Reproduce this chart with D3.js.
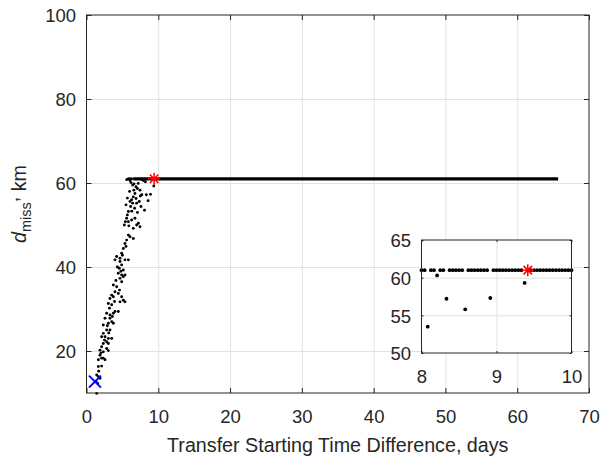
<!DOCTYPE html>
<html>
<head>
<meta charset="utf-8">
<script src="https://cdn.jsdelivr.net/npm/d3@7"></script>
<style>
body { margin: 0; background: #fff; }
text { font-family: "Liberation Sans", Arial, sans-serif; fill: #262626; }
.grid line { stroke: #e2e2e2; }
.grid path { display: none; }
.ax path { display: none; }
.ax line { stroke: #262626; }
</style>
</head>
<body>
<script>
// miss distance vs transfer start shift (days, km)
var cloudT = [4.67,4.90,4.57,5.13,4.43,4.90,4.67,5.13,5.36,4.90,3.74,4.20,3.97,3.51,3.27,3.74,4.43,4.90,5.13,5.36,
              4.67,3.04,3.51,3.97,4.43,3.74,3.27,2.81,2.58,3.27,3.51,3.04,2.34,3.74,2.81,3.27,2.34,2.11,2.58,3.04,
              3.51,2.81,2.34,3.04,2.11,2.81,1.88,2.34,3.04,1.88,2.11,1.65,2.34,2.58,1.65,2.11,1.42,1.65,1.88,1.32,1.42,
              6.06,6.20,6.43,6.62,6.89,7.08,7.45,7.68,7.92,6.75,6.52,6.29,6.06,6.43,6.15,6.99,7.35,7.59,5.83,5.69,
              5.59,5.41,5.27,5.83,6.29,6.75,7.22,7.45,6.99,6.52,5.83,6.06,5.59,6.52,5.36,5.13,4.90,4.20,3.97,4.67,
              5.36,5.83,
              3.20,3.90,4.10,4.60,4.30,5.00,5.50,4.80,3.60,2.90,2.50,2.00,1.70,1.55,3.10,
              5.90,6.30,6.70,7.10,7.70,7.20,6.60,6.00,5.70,5.50,6.90,7.50,5.60,
              8.083,8.208,8.333,8.583,8.917,9.375];
var cloudD = [41.3,40.5,39.7,39.3,38.5,38.1,37.3,37.7,38.1,36.5,35.7,35.3,34.1,33.3,32.5,32.9,33.7,32.9,32.1,31.7,
              31.7,31.3,31.0,29.4,29.4,29.0,28.6,29.0,27.8,27.8,27.0,26.6,26.2,26.6,25.0,25.0,24.2,23.4,23.4,23.0,
              23.0,22.2,21.8,21.8,21.0,20.6,20.2,19.8,20.1,19.0,18.3,17.9,18.3,17.9,16.3,16.4,14.3,13.9,13.5,12.7,9.9,
              60.6,60.1,59.5,59.8,59.1,58.7,58.3,60.9,60.6,57.5,56.7,56.0,55.6,55.2,54.4,55.2,55.6,54.4,53.2,52.4,
              51.6,50.8,50.0,50.8,51.2,51.6,50.4,49.6,50.0,49.2,47.6,47.2,46.4,46.8,45.6,44.4,43.3,42.5,41.7,42.1,
              41.7,41.7,
              30.2,31.8,36.8,34.5,40.0,42.8,44.9,39.0,28.2,26.0,22.6,19.5,15.2,12.3,24.3,
              49.8,53.3,54.0,53.0,57.2,59.9,58.3,58.0,56.4,54.8,56.3,56.9,60.8,
              53.5,60.3,57.2,55.8,57.3,59.3];
var plateauValue = 61;
var plateauDotsT = [5.83, 6.06, 6.29];
var plateauSpan = [6.5, 65.7];
// hours after day 8 that sit on the plateau (inset)
var insetPlateauHours = [0,1,3,4,6,7,9,10,11,12,13,15,16,17,18,19,20,21,23,24,25,26,27,28,29,30,31,32,
                         34,35,36,37,38,39,40,41,42,43,44,45,46,47,48];
var bestPoint = [9.417, 61];
var startPoint = [1.18, 12.7];

var xTicks = [0,10,20,30,40,50,60,70];
var yTicks = [20,40,60,80,100];
var insetXTicks = [8,9,10];
var insetYTicks = [50,55,60,65];

var W = 603, H = 461;
var svg = d3.select("body").append("svg").attr("width", W).attr("height", H);

var x = d3.scaleLinear().domain([0,70]).range([86.5,589]);
var y = d3.scaleLinear().domain([10,100]).range([393,15]);
var fmt = d3.format("d");

function axesFrame(g, xs, ys, xt, yt) {
    var x0 = xs.range()[0], x1 = xs.range()[1], y0 = ys.range()[0], y1 = ys.range()[1];
    g.append("rect").attr("x", x0).attr("y", y1).attr("width", x1-x0).attr("height", y0-y1).attr("fill", "#fff");
    g.append("g").attr("class","grid").attr("transform","translate(0,"+y0+")")
        .call(d3.axisBottom(xs).tickValues(xt.filter(function(v){return v>xs.domain()[0] && v<xs.domain()[1];})).tickSize(-(y0-y1)).tickFormat(""));
    g.append("g").attr("class","grid").attr("transform","translate("+x0+",0)")
        .call(d3.axisLeft(ys).tickValues(yt.filter(function(v){return v>ys.domain()[0] && v<ys.domain()[1];})).tickSize(-(x1-x0)).tickFormat(""));
}
function axesTicks(g, xs, ys, xt, yt, tick, fs) {
    var x0 = xs.range()[0], x1 = xs.range()[1], y0 = ys.range()[0], y1 = ys.range()[1];
    var b = g.append("g").attr("class","ax").attr("transform","translate(0,"+y0+")")
        .call(d3.axisBottom(xs).tickValues(xt).tickFormat(fmt).tickSizeInner(-tick).tickSizeOuter(0).tickPadding(17));
    b.selectAll("text").style("font-size", fs+"px");
    var l = g.append("g").attr("class","ax").attr("transform","translate("+x0+",0)")
        .call(d3.axisLeft(ys).tickValues(yt).tickFormat(fmt).tickSizeInner(-tick).tickSizeOuter(0).tickPadding(10.5));
    l.selectAll("text").style("font-size", fs+"px").attr("dy","0.36em");
    g.append("g").attr("class","ax").attr("transform","translate(0,"+y1+")")
        .call(d3.axisTop(xs).tickValues(xt).tickSizeInner(-tick).tickSizeOuter(0).tickFormat(""));
    g.append("g").attr("class","ax").attr("transform","translate("+x1+",0)")
        .call(d3.axisRight(ys).tickValues(yt).tickSizeInner(-tick).tickSizeOuter(0).tickFormat(""));
    g.append("rect").attr("x", x0).attr("y", y1).attr("width", x1-x0).attr("height", y0-y1)
        .attr("fill","none").attr("stroke","#262626").attr("stroke-width",1);
}
function star(g, cx, cy, r) {
    var p = d3.path();
    for (var a = 0; a < 4; a++) {
        var ang = a*Math.PI/4;
        p.moveTo(cx - r*Math.cos(ang), cy - r*Math.sin(ang));
        p.lineTo(cx + r*Math.cos(ang), cy + r*Math.sin(ang));
    }
    g.append("path").attr("d", p.toString()).attr("stroke","#ff0000").attr("stroke-width",1.5).attr("fill","none");
}

// main axes
var main = svg.append("g");
axesFrame(main, x, y, xTicks, yTicks);

main.append("line")
    .attr("x1", x(plateauSpan[0])).attr("x2", x(plateauSpan[1]))
    .attr("y1", y(plateauValue)).attr("y2", y(plateauValue))
    .attr("stroke","#000").attr("stroke-width",3.2);
main.selectAll("circle.pl").data(plateauDotsT).enter().append("circle")
    .attr("cx", function(d){return x(d);}).attr("cy", y(plateauValue)).attr("r",1.5).attr("fill","#000");
main.selectAll("circle.cl").data(d3.range(cloudT.length)).enter().append("circle")
    .attr("cx", function(i){return x(cloudT[i]);}).attr("cy", function(i){return y(cloudD[i]);})
    .attr("r",1.45).attr("fill","#000");
star(main, x(bestPoint[0]), y(bestPoint[1]), 6);
var sx = x(startPoint[0]), sy = y(startPoint[1]);
main.append("path").attr("d","M"+(sx-6)+","+(sy-6)+"L"+(sx+6)+","+(sy+6)+"M"+(sx-6)+","+(sy+6)+"L"+(sx+6)+","+(sy-6))
    .attr("stroke","#0000ff").attr("stroke-width",2);
axesTicks(main, x, y, xTicks, yTicks, 5, 18.5);

svg.append("text").attr("x", (86.5+589)/2).attr("y", 452).attr("text-anchor","middle")
    .style("font-size","19.7px").text("Transfer Starting Time Difference, days");
var yl = svg.append("text").attr("transform","translate(26,204) rotate(-90)").attr("text-anchor","middle").style("font-size","19.7px");
yl.append("tspan").style("font-style","italic").text("d");
yl.append("tspan").attr("dy",5).style("font-size","14.5px").text("miss");
yl.append("tspan").attr("dy",-13).text(",");
yl.append("tspan").attr("dy",8).text(" km");

// inset zoom 8..10 days
var xi = d3.scaleLinear().domain([8,10]).range([421.5,571.5]);
var yi = d3.scaleLinear().domain([50,65]).range([353,240]);
var inset = svg.append("g");
axesFrame(inset, xi, yi, insetXTicks, insetYTicks);
var inDots = [];
insetPlateauHours.forEach(function(h){ inDots.push([8 + h/24, plateauValue]); });
cloudT.forEach(function(t,i){ if (t >= 8 && t <= 10) inDots.push([t, cloudD[i]]); });
inset.selectAll("circle").data(inDots).enter().append("circle")
    .attr("cx", function(d){return xi(d[0]);}).attr("cy", function(d){return yi(d[1]);})
    .attr("r",1.9).attr("fill","#000");
star(inset, xi(bestPoint[0]), yi(bestPoint[1]), 6);
axesTicks(inset, xi, yi, insetXTicks, insetYTicks, 2, 18.5);
</script>
</body>
</html>
